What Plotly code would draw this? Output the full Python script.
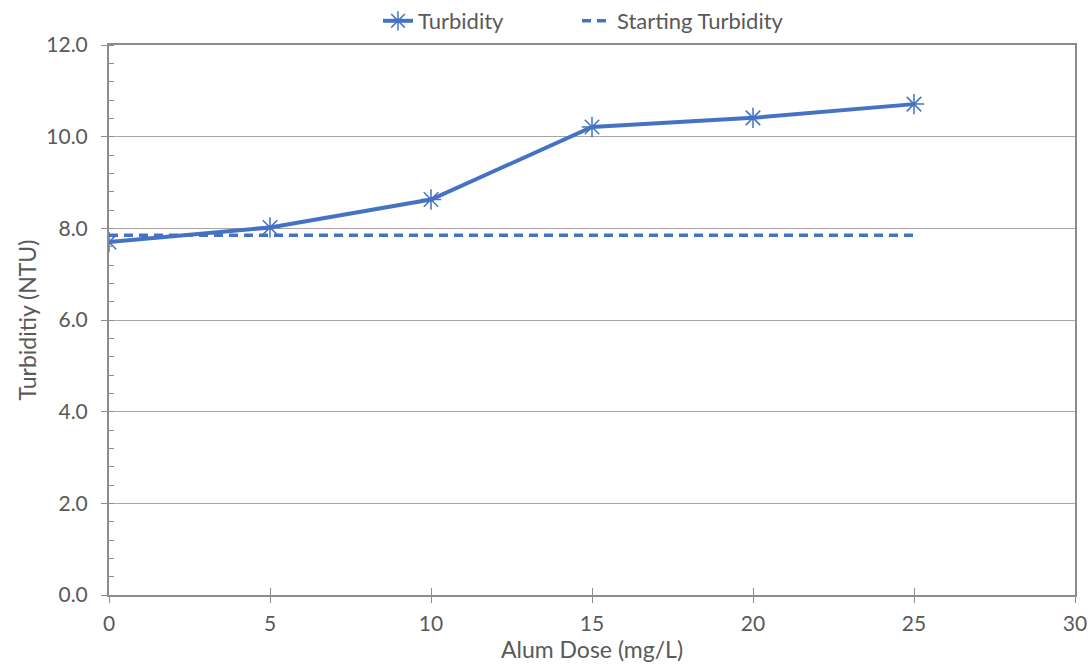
import plotly.graph_objects as go

dose = [0, 5, 10, 15, 20, 25]
turbidity = [7.70, 8.02, 8.63, 10.21, 10.41, 10.71]
start_dose = [0, 25]
start_turbidity = [7.85, 7.85]

BLUE = "#4472C4"
AXIS = "#8c8c8c"
GRID = "#a6a6a6"
TEXT = "#595959"
FONT = "Lato"

fig = go.Figure()
fig.add_trace(go.Scatter(
    x=dose, y=turbidity, name="Turbidity", mode="lines+markers",
    line=dict(color=BLUE, width=4),
    marker=dict(symbol="asterisk-open", size=17, color=BLUE, line=dict(color=BLUE, width=1.5)),
    legend="legend",
))
fig.add_trace(go.Scatter(
    x=start_dose, y=start_turbidity, name="Starting Turbidity", mode="lines",
    line=dict(color=BLUE, width=3.5, dash="9px,6px"),
    legend="legend2",
))
# invisible trace on overlay axis for the inside half of the crossing x ticks
fig.add_trace(go.Scatter(x=[0, 30], y=[0, 0], xaxis="x2", mode="lines",
                         line=dict(width=0), showlegend=False, hoverinfo="skip"))

leg_common = dict(orientation="h", xref="container", yref="container",
                  xanchor="left", y=1.0, yanchor="top",
                  font=dict(size=22, color=TEXT), bgcolor="rgba(0,0,0,0)")

fig.update_layout(
    width=1092, height=670,
    margin=dict(l=109, r=17, t=45, b=75, autoexpand=False),
    paper_bgcolor="white", plot_bgcolor="white",
    font=dict(family=FONT, color=TEXT, size=22),
    showlegend=True,
    legend=dict(x=378 / 1092, **leg_common),
    legend2=dict(x=577 / 1092, **leg_common),
    xaxis=dict(
        range=[0, 30], dtick=5, tick0=0, automargin=False,
        showgrid=False, zeroline=False,
        showline=True, linecolor=AXIS, linewidth=2, mirror=True,
        ticks="outside", ticklen=6, tickcolor=AXIS, tickwidth=1,
        ticklabelstandoff=3,
        tickfont=dict(size=21, color=TEXT),
        title=dict(text="Alum Dose (mg/L)", font=dict(size=23, color=TEXT), standoff=0),
    ),
    xaxis2=dict(
        range=[0, 30], dtick=5, tick0=0, overlaying="x", anchor="y", automargin=False,
        showgrid=False, zeroline=False, showline=False,
        ticks="inside", ticklen=7, tickcolor=AXIS, tickwidth=1,
        showticklabels=False,
    ),
    yaxis=dict(
        range=[0, 12], dtick=2, tick0=0, tickformat=".1f", automargin=False,
        showgrid=True, gridcolor=GRID, gridwidth=1, zeroline=False,
        showline=True, linecolor=AXIS, linewidth=2, mirror=True,
        ticks="outside", ticklen=6, tickcolor=AXIS, tickwidth=1,
        ticklabelstandoff=9,
        tickfont=dict(size=21, color=TEXT),
        minor=dict(dtick=0.4, ticks="inside", ticklen=5, tickcolor=AXIS, tickwidth=1, showgrid=False),
        title=dict(text="Turbiditiy (NTU)", font=dict(size=23, color=TEXT), standoff=3),
    ),
)

fig.write_html("out.html", config={"displayModeBar": False},
               post_script="document.body.style.margin='0';")
